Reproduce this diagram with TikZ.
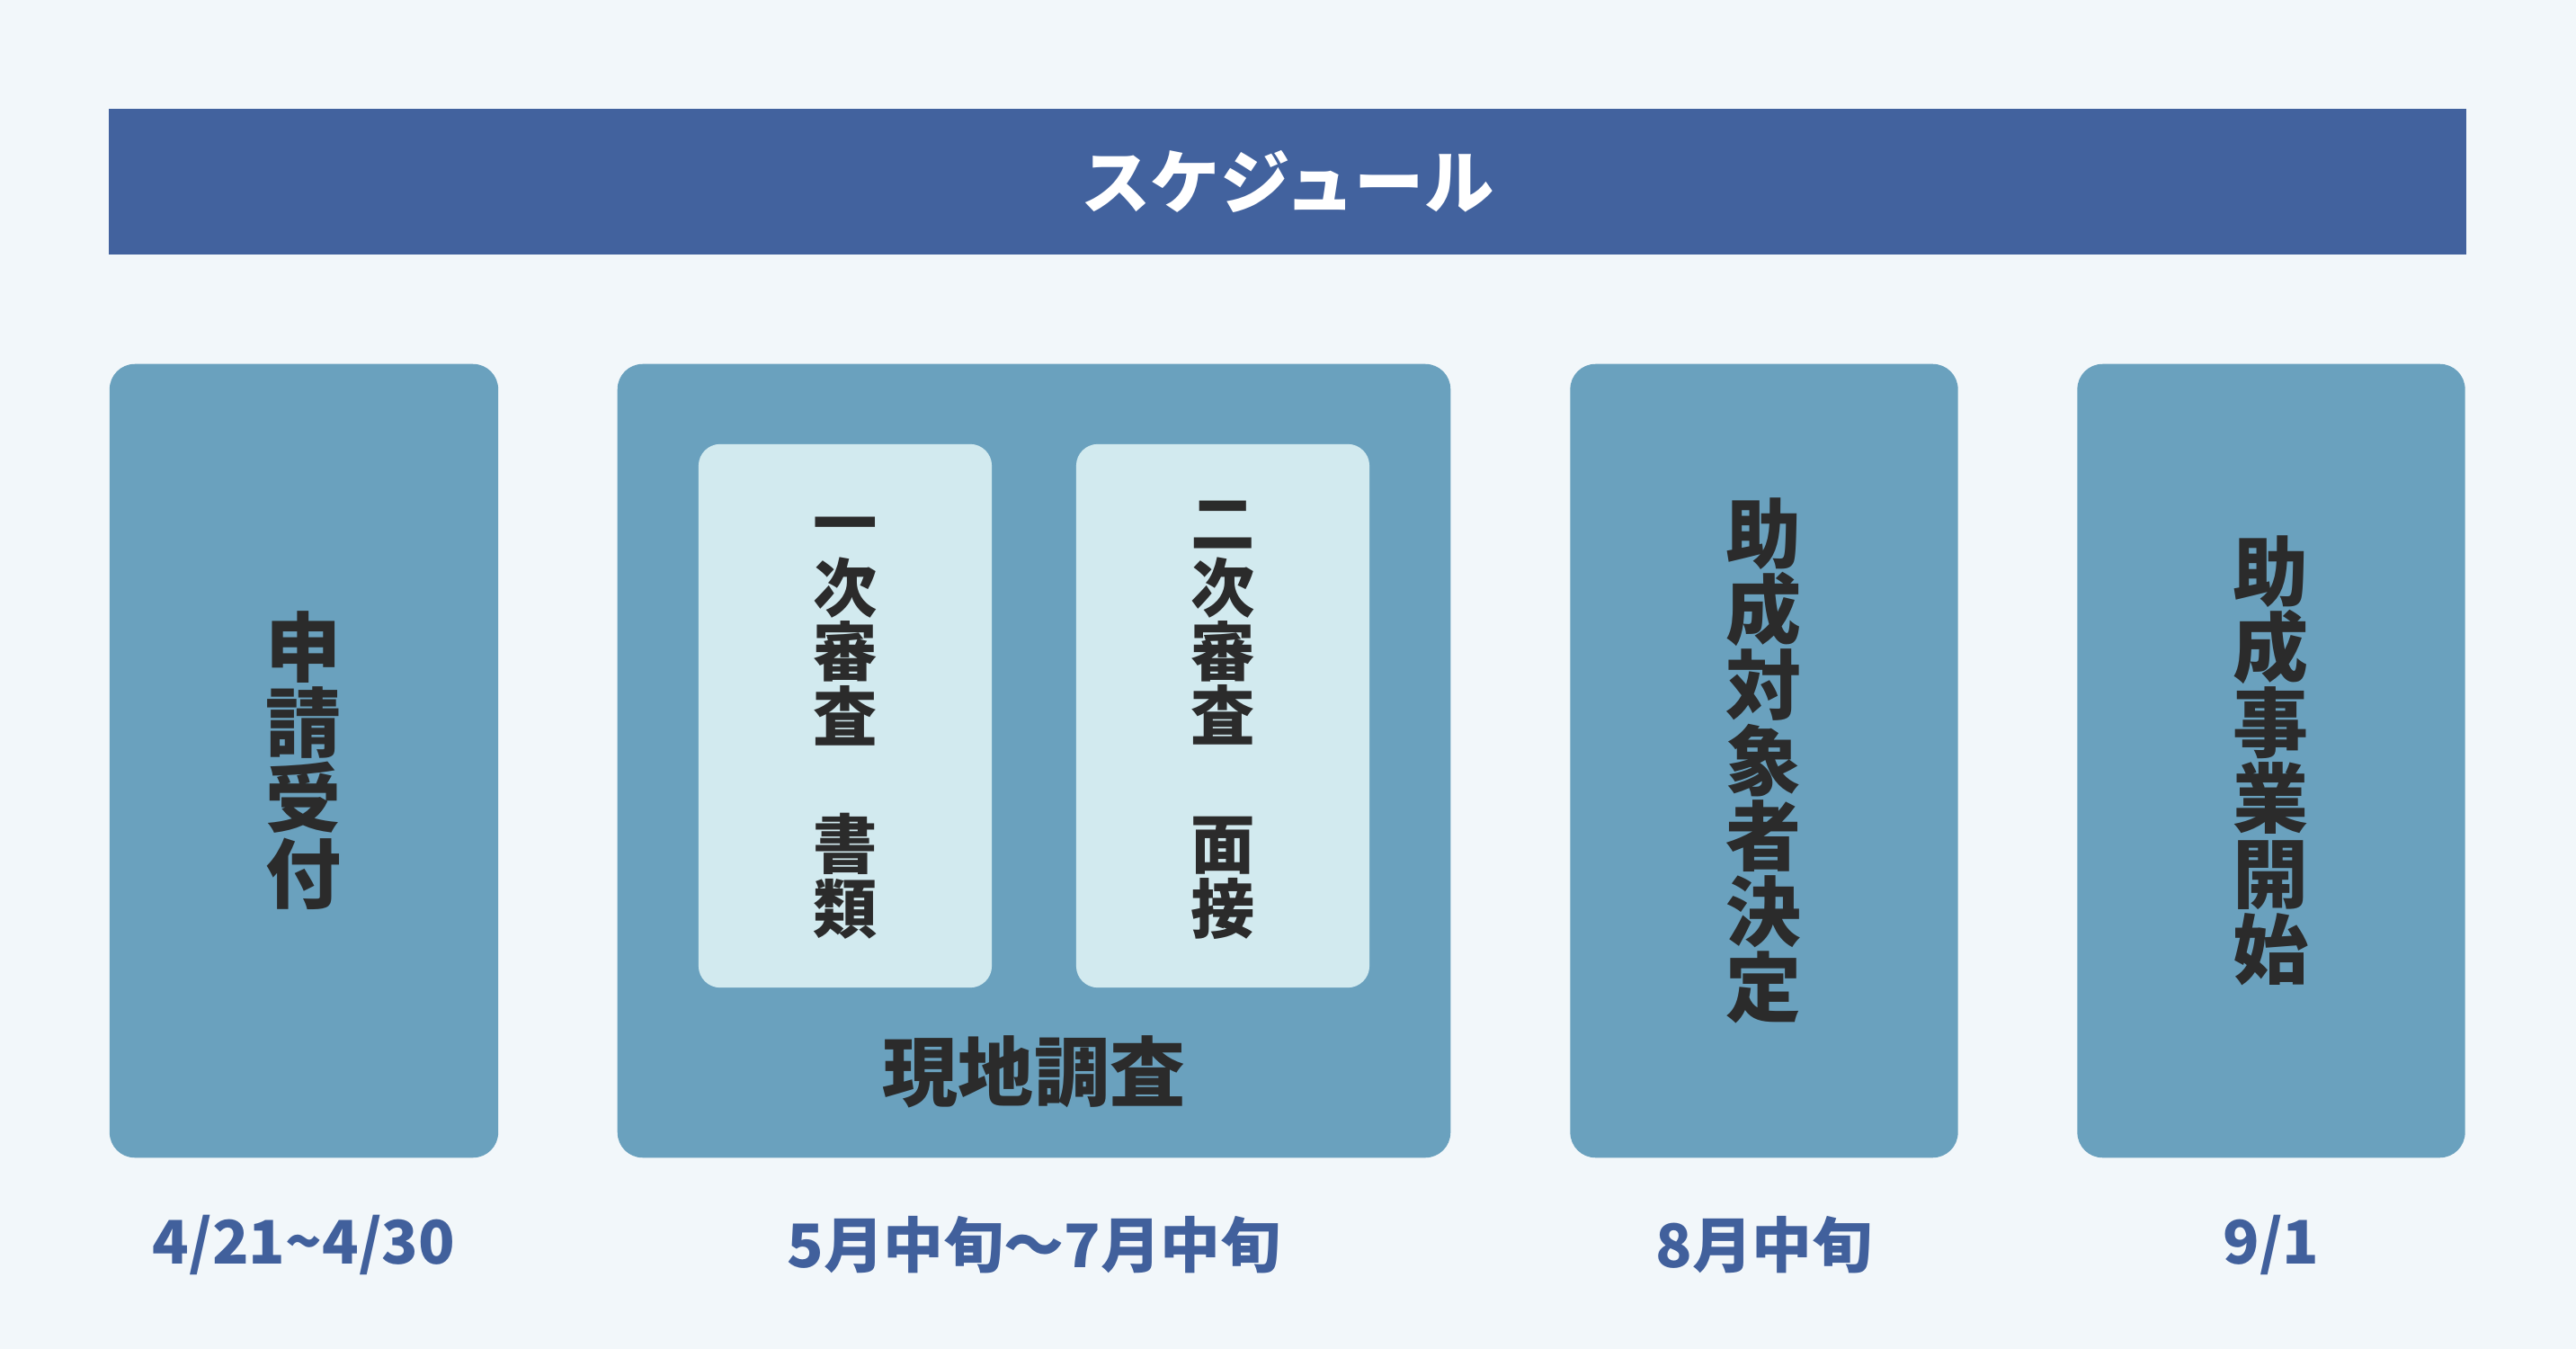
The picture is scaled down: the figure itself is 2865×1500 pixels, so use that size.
\documentclass[tikz,border=0pt]{standalone}
\usepackage{fontspec}
\setmainfont{Noto Sans CJK JP}
\usetikzlibrary{positioning}

\definecolor{paper}{RGB}{242,247,250}
\definecolor{barblue}{RGB}{66,98,158}
\definecolor{boxblue}{RGB}{106,161,190}
\definecolor{paleblue}{RGB}{210,234,239}
\definecolor{ink}{RGB}{43,43,43}
\definecolor{dateblue}{RGB}{65,96,156}

\begin{document}
\begin{tikzpicture}[x=0.01cm, y=-0.01cm,
  phase/.style={fill=boxblue, rounded corners=0.28cm, inner sep=0pt},
  subphase/.style={fill=paleblue, rounded corners=0.24cm, inner sep=0pt},
  tate/.style={align=center, text=ink, inner sep=0pt,
    font=\fontsize{23.9}{23.9}\selectfont\bfseries},
  tatesmall/.style={tate, font=\fontsize{20.3}{20.3}\selectfont\bfseries},
  date/.style={text=dateblue, inner sep=0pt,
    font=\fontsize{19}{19}\selectfont\bfseries}]
% Page and title bar
\fill[paper] (0,0) rectangle (2865,1500);
\useasboundingbox (0,0) rectangle (2865,1500);
\node[fill=barblue, minimum width=26.2cm, minimum height=1.61cm, inner sep=0pt,
  text=white, font=\fontsize{22}{22}\selectfont\bfseries] (title) at (1432,202) {スケジュール};

% Four phases (left to right)
\node[phase, minimum width=4.32cm, minimum height=8.82cm] (recv)   at (338,846)  {};
\node[phase, minimum width=9.26cm, minimum height=8.82cm] (survey) at (1150,846) {};
\node[phase, minimum width=4.31cm, minimum height=8.82cm] (decide) at (1962,846) {};
\node[phase, minimum width=4.31cm, minimum height=8.82cm] (begin)  at (2526,846) {};

% Two reviews inside the survey box
\node[subphase, minimum width=3.26cm, minimum height=6.04cm] (first)  at (940,796)  {};
\node[subphase, minimum width=3.26cm, minimum height=6.04cm] (second) at (1360,796) {};

% Vertical labels
\node[tate] at (recv.center) {申\\請\\受\\付};
\node[tate] at (decide.center) {助\\成\\対\\象\\者\\決\\定};
\node[tate] at (begin.center) {助\\成\\事\\業\\開\\始};
\node[tatesmall] at (first.center) {\vphantom{審}一\\次\\審\\査\\\mbox{}\\書\\類};
\node[tatesmall] at (second.center) {\vphantom{審}二\\次\\審\\査\\\mbox{}\\面\\接};
\node[tate] (site) at (1150,1192) {現地調査};

% Dates under each phase
\node[date] (d1) at (338,1384)  {4/21\textasciitilde 4/30};
\node[date] (d2) at (1150,1384) {5月中旬～7月中旬};
\node[date] (d3) at (1962,1384) {8月中旬};
\node[date] (d4) at (2526,1384) {9/1};
\end{tikzpicture}
\end{document}
